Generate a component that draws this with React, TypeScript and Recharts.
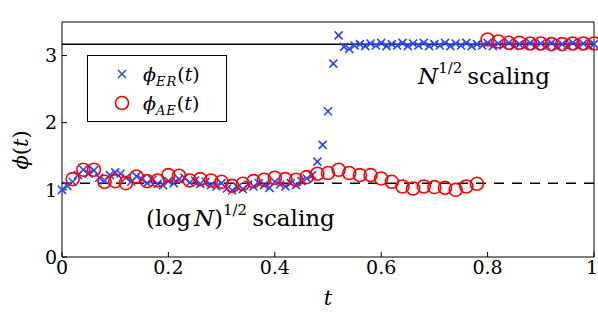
import { Legend, ReferenceLine, Scatter, ScatterChart, XAxis, YAxis } from 'recharts';

const erT = [
  0, 0.01, 0.02, 0.03, 0.04, 0.05, 0.06, 0.07, 0.08, 0.09,
  0.1, 0.11, 0.12, 0.13, 0.14, 0.15, 0.16, 0.17, 0.18, 0.19,
  0.2, 0.21, 0.22, 0.23, 0.24, 0.25, 0.26, 0.27, 0.28, 0.29,
  0.3, 0.31, 0.32, 0.33, 0.34, 0.35, 0.36, 0.37, 0.38, 0.39,
  0.4, 0.41, 0.42, 0.43, 0.44, 0.45, 0.46, 0.47, 0.48, 0.49,
  0.5, 0.51, 0.52, 0.53, 0.54, 0.55, 0.56, 0.57, 0.58, 0.59,
  0.6, 0.61, 0.62, 0.63, 0.64, 0.65, 0.66, 0.67, 0.68, 0.69,
  0.7, 0.71, 0.72, 0.73, 0.74, 0.75, 0.76, 0.77, 0.78, 0.79,
  0.8, 0.81, 0.82, 0.83, 0.84, 0.85, 0.86, 0.87, 0.88, 0.89,
  0.9, 0.91, 0.92, 0.93, 0.94, 0.95, 0.96, 0.97, 0.98, 0.99, 1,
];
const erPhi = [
  1.0, 1.06, 1.12, 1.22, 1.3, 1.24, 1.29, 1.18, 1.14, 1.22,
  1.26, 1.24, 1.18, 1.12, 1.2, 1.16, 1.1, 1.15, 1.09, 1.07,
  1.13, 1.1, 1.16, 1.18, 1.11, 1.14, 1.09, 1.12, 1.07, 1.05,
  1.1, 1.02, 0.99, 1.04, 1.01, 1.08, 1.05, 1.1, 1.07, 1.03,
  1.12, 1.08, 1.05, 1.1, 1.07, 1.13, 1.17, 1.22, 1.42, 1.67,
  2.17, 2.88, 3.3, 3.13, 3.1, 3.15, 3.17, 3.14, 3.18, 3.15,
  3.19, 3.14, 3.17, 3.15, 3.19, 3.14, 3.18, 3.15, 3.19, 3.14,
  3.17, 3.15, 3.19, 3.14, 3.18, 3.15, 3.19, 3.14, 3.17, 3.15,
  3.19, 3.14, 3.18, 3.15, 3.19, 3.14, 3.17, 3.15, 3.19, 3.14,
  3.18, 3.15, 3.19, 3.14, 3.17, 3.15, 3.19, 3.14, 3.18, 3.15, 3.17,
];

const aeT = [
  0.02, 0.04, 0.06, 0.08, 0.1, 0.12, 0.14, 0.16, 0.18, 0.2,
  0.22, 0.24, 0.26, 0.28, 0.3, 0.32, 0.34, 0.36, 0.38, 0.4,
  0.42, 0.44, 0.46, 0.48, 0.5, 0.52, 0.54, 0.56, 0.58, 0.6,
  0.62, 0.64, 0.66, 0.68, 0.7, 0.72, 0.74, 0.76, 0.78, 0.8,
  0.82, 0.84, 0.86, 0.88, 0.9, 0.92, 0.94, 0.96, 0.98, 1,
];
const aePhi = [
  1.16, 1.3, 1.3, 1.12, 1.13, 1.1, 1.2, 1.13, 1.14, 1.22,
  1.21, 1.14, 1.16, 1.14, 1.12, 1.06, 1.09, 1.13, 1.15, 1.18,
  1.16, 1.15, 1.19, 1.24, 1.25, 1.3, 1.25, 1.22, 1.22, 1.17,
  1.12, 1.05, 1.02, 1.05, 1.04, 1.03, 1.0, 1.05, 1.09, 3.24,
  3.21, 3.19, 3.19, 3.18, 3.18, 3.17, 3.17, 3.18, 3.18, 3.18,
];

const xTicks = [0, 0.2, 0.4, 0.6, 0.8, 1];
const yTicks = [0, 1, 2, 3];
const sqrtLevel = 3.17; // N^{1/2}
const logLevel = 1.1; // (log N)^{1/2}

const erData = erT.map((t, i) => ({ t, phi: erPhi[i] }));
const aeData = aeT.map((t, i) => ({ t, phi: aePhi[i] }));

const blue = '#2a45ff';
const red = '#ff0000';
const serif = 'DejaVu Serif';
const serifStyle = { fontFamily: serif };

const Cross = ({ cx, cy }: any) => (
  <path
    d={`M${cx - 4},${cy - 4}L${cx + 4},${cy + 4}M${cx + 4},${cy - 4}L${cx - 4},${cy + 4}`}
    stroke={blue}
    strokeWidth={1.6}
    fill="none"
  />
);

const Ring = ({ cx, cy }: any) => <circle cx={cx} cy={cy} r={6.5} stroke={red} strokeWidth={1.6} fill="none" />;

const LegendBox = () => (
  <svg width={140} height={67} style={{ display: 'block' }}>
    <rect x={0.5} y={0.5} width={139} height={66} fill="#fff" stroke="#000" />
    <Cross cx={35} cy={19} />
    <text x={56} y={26} style={serifStyle} fontSize={19}>
      <tspan fontStyle="italic">ϕ</tspan>
      <tspan fontStyle="italic" fontSize={13} dy={5} letterSpacing={1}>ER</tspan>
      <tspan dy={-5}>(</tspan>
      <tspan fontStyle="italic">t</tspan>
      <tspan>)</tspan>
    </text>
    <Ring cx={35} cy={48} />
    <text x={56} y={55} style={serifStyle} fontSize={19}>
      <tspan fontStyle="italic">ϕ</tspan>
      <tspan fontStyle="italic" fontSize={13} dy={5} letterSpacing={1}>AE</tspan>
      <tspan dy={-5}>(</tspan>
      <tspan fontStyle="italic">t</tspan>
      <tspan>)</tspan>
    </text>
  </svg>
);

const tickStyle = { fill: '#000', fontSize: 19, fontFamily: serif, style: serifStyle };

export default function App() {
  return (
    <div style={{ position: 'absolute', left: 0, top: 0, width: 598, height: 313, background: '#fff', fontFamily: serif }}>
      <ScatterChart width={598} height={313} margin={{ top: 21, right: 3, bottom: 0, left: 0 }} style={serifStyle}>
        <XAxis
          xAxisId="b"
          type="number"
          dataKey="t"
          domain={[0, 1]}
          ticks={xTicks}
          tickFormatter={(v) => String(v)}
          height={56}
          tickSize={-5}
          tickMargin={9}
          stroke="#000"
          tick={tickStyle}
        />
        <XAxis xAxisId="top" type="number" orientation="top" domain={[0, 1]} ticks={xTicks} height={1} tickSize={-5} tick={false} stroke="#000" />
        <YAxis
          yAxisId="l"
          type="number"
          dataKey="phi"
          domain={[0, 3.5]}
          ticks={yTicks}
          width={62}
          tickSize={-5}
          tickMargin={10}
          stroke="#000"
          tick={tickStyle}
        />
        <YAxis yAxisId="r" type="number" orientation="right" domain={[0, 3.5]} ticks={yTicks} width={1} tickSize={-5} tick={false} stroke="#000" />
        <ReferenceLine xAxisId="b" yAxisId="l" y={sqrtLevel} stroke="#000" strokeWidth={1.5} />
        <ReferenceLine xAxisId="b" yAxisId="l" y={logLevel} stroke="#000" strokeWidth={1.5} strokeDasharray="10 8" />
        <Scatter xAxisId="b" yAxisId="l" name="ER" data={erData} shape={Cross} isAnimationActive={false} />
        <Scatter xAxisId="b" yAxisId="l" name="AE" data={aeData} shape={Ring} isAnimationActive={false} />
        <Legend
          layout="vertical"
          align="center"
          verticalAlign="middle"
          content={LegendBox}
          wrapperStyle={{ left: 87, top: 55, width: 140, height: 67 }}
        />
      </ScatterChart>
      <svg width={598} height={313} style={{ position: 'absolute', left: 0, top: 0, pointerEvents: 'none', fontFamily: serif }}>
        <text x={418} y={84} fontSize={23}>
          <tspan fontStyle="italic">N</tspan>
          <tspan fontSize={15} dy={-11}>1/2</tspan>
          <tspan dy={11} dx={5}>scaling</tspan>
        </text>
        <text x={146} y={226} fontSize={23}>
          <tspan>(log</tspan>
          <tspan fontStyle="italic" dx={3}>N</tspan>
          <tspan>)</tspan>
          <tspan fontSize={15} dy={-11}>1/2</tspan>
          <tspan dy={11} dx={5}>scaling</tspan>
        </text>
        <text x={328} y={305} fontSize={21} fontStyle="italic" textAnchor="middle">t</text>
        <text transform="translate(28,150) rotate(-90)" fontSize={21} textAnchor="middle">
          <tspan fontStyle="italic">ϕ</tspan>
          <tspan>(</tspan>
          <tspan fontStyle="italic">t</tspan>
          <tspan>)</tspan>
        </text>
      </svg>
    </div>
  );
}
